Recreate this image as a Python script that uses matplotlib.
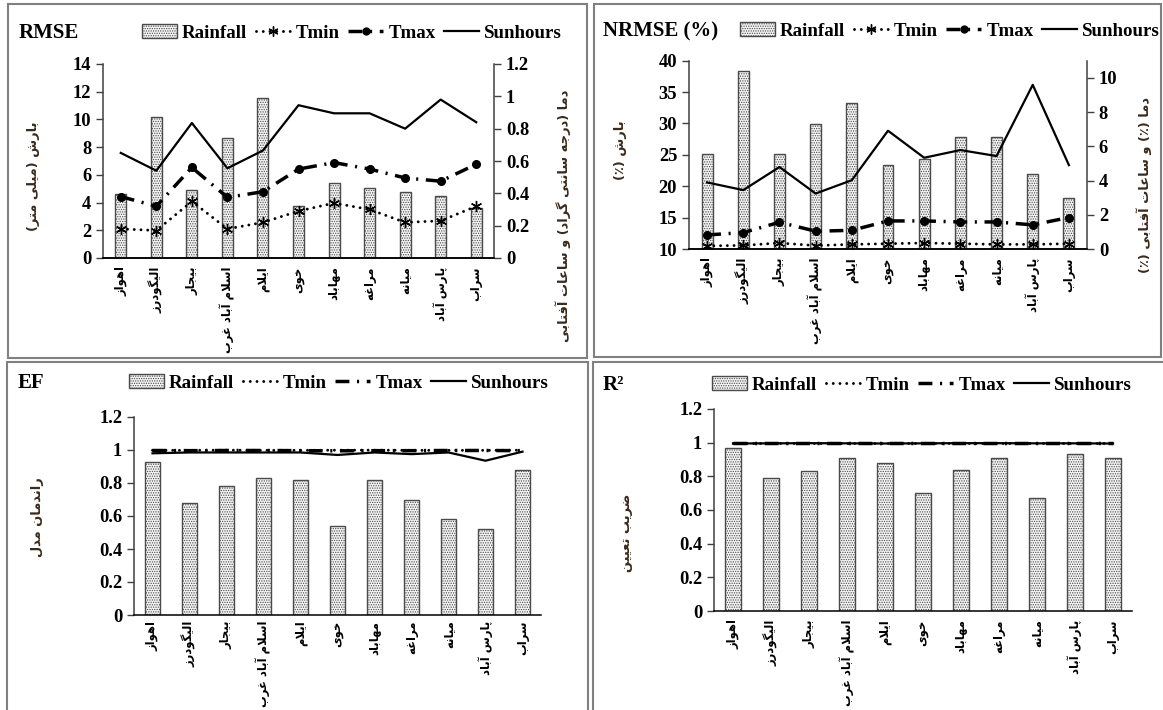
import matplotlib
matplotlib.use('Agg')
import matplotlib.pyplot as plt
from matplotlib.patches import Rectangle, Patch
from matplotlib.lines import Line2D
from matplotlib.ticker import FuncFormatter

W, H = 1163, 710

stations = ['اهواز', 'الیگودرز', 'بیجار', 'اسلام آباد غرب', 'ایلام', 'خوی',
            'مهاباد', 'مراغه', 'میانه', 'پارس آباد', 'سراب']

# RMSE
rmse_rain = [4.6, 10.15, 4.9, 8.65, 11.55, 3.75, 5.4, 5.05, 4.75, 4.45, 3.6]
rmse_tmin = [0.18, 0.17, 0.35, 0.18, 0.22, 0.29, 0.34, 0.30, 0.22, 0.23, 0.32]
rmse_tmax = [0.38, 0.32, 0.56, 0.375, 0.41, 0.55, 0.59, 0.55, 0.495, 0.475, 0.58]
rmse_sun = [0.65, 0.54, 0.835, 0.555, 0.665, 0.945, 0.895, 0.895, 0.80, 0.98, 0.84]

# NRMSE (%)
nrmse_rain = [25.2, 38.3, 25.2, 29.9, 33.2, 23.4, 24.3, 27.9, 27.8, 22.0, 18.1]
nrmse_tmin = [0.18, 0.21, 0.35, 0.20, 0.27, 0.31, 0.35, 0.31, 0.27, 0.27, 0.31]
nrmse_tmax = [0.82, 0.96, 1.56, 1.04, 1.09, 1.64, 1.64, 1.58, 1.58, 1.41, 1.84]
nrmse_sun = [3.89, 3.44, 4.79, 3.24, 4.02, 6.91, 5.33, 5.78, 5.43, 9.59, 4.90]

# EF
ef_rain = [0.93, 0.68, 0.78, 0.83, 0.82, 0.54, 0.82, 0.70, 0.58, 0.52, 0.88]
ef_tmin = [0.998, 0.998, 0.999, 0.998, 0.998, 0.999, 0.999, 0.998, 0.998, 0.998, 0.999]
ef_tmax = [0.997, 0.996, 0.997, 0.997, 0.996, 0.995, 0.996, 0.996, 0.997, 0.997, 0.996]
ef_sun = [0.980, 0.985, 0.985, 0.985, 0.985, 0.970, 0.985, 0.975, 0.985, 0.935, 0.990]

# R2
r2_rain = [0.97, 0.79, 0.83, 0.91, 0.88, 0.70, 0.84, 0.91, 0.67, 0.93, 0.91]
r2_tmin = [0.999, 0.999, 0.999, 0.999, 0.999, 0.999, 0.999, 0.999, 0.999, 0.999, 0.999]
r2_tmax = [0.998, 0.998, 0.998, 0.998, 0.998, 0.998, 0.998, 0.998, 0.998, 0.998, 0.998]
r2_sun = [0.995, 0.996, 0.997, 0.996, 0.995, 0.996, 0.997, 0.997, 0.996, 0.996, 0.995]

series_names = ['Rainfall', 'Tmin', 'Tmax', 'Sunhours']

# persian shaping (presentation forms + visual order), matplotlib has no bidi
FORMS = {
    'ا': ('\uFE8D', '\uFE8E', None, None),
    'آ': ('\uFE81', '\uFE82', None, None),
    'ب': ('\uFE8F', '\uFE90', '\uFE91', '\uFE92'),
    'پ': ('\uFB56', '\uFB57', '\uFB58', '\uFB59'),
    'ت': ('\uFE95', '\uFE96', '\uFE97', '\uFE98'),
    'ج': ('\uFE9D', '\uFE9E', '\uFE9F', '\uFEA0'),
    'خ': ('\uFEA5', '\uFEA6', '\uFEA7', '\uFEA8'),
    'د': ('\uFEA9', '\uFEAA', None, None),
    'ر': ('\uFEAD', '\uFEAE', None, None),
    'ز': ('\uFEAF', '\uFEB0', None, None),
    'س': ('\uFEB1', '\uFEB2', '\uFEB3', '\uFEB4'),
    'ش': ('\uFEB5', '\uFEB6', '\uFEB7', '\uFEB8'),
    'ض': ('\uFEBD', '\uFEBE', '\uFEBF', '\uFEC0'),
    'ع': ('\uFEC9', '\uFECA', '\uFECB', '\uFECC'),
    'غ': ('\uFECD', '\uFECE', '\uFECF', '\uFED0'),
    'ف': ('\uFED1', '\uFED2', '\uFED3', '\uFED4'),
    'گ': ('\uFB92', '\uFB93', '\uFB94', '\uFB95'),
    'ل': ('\uFEDD', '\uFEDE', '\uFEDF', '\uFEE0'),
    'م': ('\uFEE1', '\uFEE2', '\uFEE3', '\uFEE4'),
    'ن': ('\uFEE5', '\uFEE6', '\uFEE7', '\uFEE8'),
    'ه': ('\uFEE9', '\uFEEA', '\uFEEB', '\uFEEC'),
    'و': ('\uFEED', '\uFEEE', None, None),
    'ی': ('\uFBFC', '\uFBFD', '\uFBFE', '\uFBFF'),
}


def shape(text):
    out = []
    i = 0
    n = len(text)
    while i < n:
        c = text[i]
        if c not in FORMS:
            out.append(c)
            i += 1
            continue
        prev = text[i - 1] if i > 0 else ''
        jp = prev in FORMS and FORMS[prev][2] is not None
        if c == 'ل' and i + 1 < n and text[i + 1] == 'ا':
            out.append('\uFEFC' if jp else '\uFEFB')
            i += 2
            continue
        nxt = text[i + 1] if i + 1 < n else ''
        jn = FORMS[c][2] is not None and nxt in FORMS
        iso, fin, ini, med = FORMS[c]
        if jp and jn:
            out.append(med)
        elif jp:
            out.append(fin)
        elif jn:
            out.append(ini)
        else:
            out.append(iso)
        i += 1
    vis = ''.join(reversed(out))
    return vis.translate(str.maketrans('()', ')('))


LAT = 'Liberation Serif'
FA = ['DejaVu Sans']
LABEL_COL = '#3b2a1a'
YLAB_SIZE = 9.4
BAR_KW = dict(color='#f4f4f4', edgecolor='#4a4a4a', hatch='.......', linewidth=1.0, zorder=2)
plt.rcParams['hatch.linewidth'] = 0.6

fig = plt.figure(figsize=(W / 100, H / 100), dpi=100)


def rect(l, r, t, b):
    return [l / W, 1 - b / H, (r - l) / W, (b - t) / H]


def fx(x):
    return x / W


def fy(y):
    return 1 - y / H


def style_axis(ax, right=False):
    ax.spines['top'].set_visible(False)
    if not right:
        ax.spines['right'].set_visible(False)
    for s in ax.spines.values():
        s.set_color('#404040')
        s.set_linewidth(1.1)
    ax.spines['bottom'].set_color('black')
    ax.tick_params(axis='y', direction='out', length=5, width=1, colors='#404040',
                   labelcolor='black', labelsize=13.3, pad=3.5)
    for t in ax.get_yticklabels():
        t.set_fontfamily(LAT)
        t.set_fontweight('bold')


def setup_x(ax, pad=6):
    x = list(range(len(stations)))
    ax.set_xlim(-0.5, len(stations) - 0.5)
    ax.set_xticks(x)
    ax.set_xticklabels([shape(s) for s in stations], rotation=90, family=FA,
                       fontweight='bold', fontsize=8.4, va='top', ha='center')
    ax.tick_params(axis='x', length=0, pad=pad)
    return x


gfmt = FuncFormatter(lambda v, p: '{:g}'.format(round(v, 3)))

TMIN_LS = (0, (0.01, 2.3))
TMAX_LS = (0, (4, 2.2, 0.6, 2.2))
tmin_kw = dict(color='black', linestyle=TMIN_LS, linewidth=2.1, dash_capstyle='round',
               marker=(6, 2, 0), markersize=8, markeredgewidth=1.0, zorder=4)
tmax_kw = dict(color='black', linestyle=TMAX_LS, linewidth=2.5,
               marker='o', markersize=5.5, zorder=4)
sun_kw = dict(color='black', linestyle='-', linewidth=1.6, zorder=4)


def legend_at(x, y, with_markers):
    handles = [Patch(facecolor='#f4f4f4', edgecolor='#4a4a4a', hatch='.......', linewidth=1.0)]
    if with_markers:
        handles.append(Line2D([], [], **tmin_kw))
        handles.append(Line2D([], [], **tmax_kw))
    else:
        handles.append(Line2D([], [], color='black', linestyle=TMIN_LS, dash_capstyle='round',
                              linewidth=2.1))
        handles.append(Line2D([], [], color='black', linestyle=TMAX_LS, linewidth=2.5))
    handles.append(Line2D([], [], **sun_kw))
    fig.legend(handles, series_names, loc='center left', bbox_to_anchor=(fx(x), fy(y)),
               ncol=4, frameon=False, borderpad=0, borderaxespad=0, handlelength=1.85,
               handletextpad=0.27, columnspacing=0.45, markerscale=0.9,
               prop=dict(family=LAT, weight='bold', size=13.6))


def ylabel(ax, text, xa, ya):
    ax.set_ylabel(shape(text), family=FA, fontweight='bold', fontsize=YLAB_SIZE,
                  color=LABEL_COL, rotation=90)
    ax.yaxis.set_label_coords(xa, ya)


# ---------------- RMSE ----------------
ax1 = fig.add_axes(rect(103, 494, 64, 258))
x = setup_x(ax1)
ax1.bar(x, rmse_rain, width=0.31, **BAR_KW)
ax1.set_ylim(0, 14)
ax1.set_yticks(range(0, 15, 2))
style_axis(ax1)
ax1b = ax1.twinx()
ax1b.plot(x, rmse_sun, **sun_kw)
ax1b.plot(x, rmse_tmax, **tmax_kw)
ax1b.plot(x, rmse_tmin, **tmin_kw)
ax1b.set_ylim(0, 1.2)
ax1b.set_yticks([0, 0.2, 0.4, 0.6, 0.8, 1.0, 1.2])
ax1b.yaxis.set_major_formatter(gfmt)
style_axis(ax1b, right=True)
ax1b.spines['left'].set_visible(False)
ylabel(ax1, 'بارش (میلی متر)', -0.161, 0.42)
ylabel(ax1b, 'دما (درجه سانتی گراد) و ساعات آفتابی', 1.156, 0.22)
fig.text(fx(19), fy(33), 'RMSE', family=LAT, weight='bold', size=15, va='center', ha='left')
legend_at(142, 33, True)

# ---------------- NRMSE ----------------
ax2 = fig.add_axes(rect(689, 1087, 60.7, 249))
x = setup_x(ax2)
ax2.bar(x, nrmse_rain, width=0.30, **BAR_KW)
ax2.set_ylim(10, 40)
ax2.set_yticks(range(10, 41, 5))
style_axis(ax2)
ax2b = ax2.twinx()
ax2b.plot(x, nrmse_sun, **sun_kw)
ax2b.plot(x, nrmse_tmax, **tmax_kw)
ax2b.plot(x, nrmse_tmin, **tmin_kw)
ax2b.set_ylim(0, 11)
ax2b.set_yticks(range(0, 11, 2))
style_axis(ax2b, right=True)
ax2b.spines['left'].set_visible(False)
ylabel(ax2, 'بارش (٪)', -0.156, 0.526)
ylabel(ax2b, 'دما (٪) و ساعات آفتابی (٪)', 1.123, 0.34)
fig.text(fx(603), fy(31), 'NRMSE (%)', family=LAT, weight='bold', size=15, va='center', ha='left')
legend_at(740, 31, True)

# ---------------- EF ----------------
ax3 = fig.add_axes(rect(134, 541, 417, 615))
x = setup_x(ax3, pad=4)
ax3.bar(x, ef_rain, width=0.38, **BAR_KW)
ax3.plot(x, ef_sun, color='black', linewidth=1.6, zorder=4)
ax3.plot(x, ef_tmax, color='black', linestyle=TMAX_LS, linewidth=2.5, zorder=5)
ax3.plot(x, ef_tmin, color='black', linestyle=TMIN_LS, dash_capstyle='round', linewidth=2.1, zorder=5)
ax3.set_ylim(0, 1.2)
ax3.set_yticks([0, 0.2, 0.4, 0.6, 0.8, 1.0, 1.2])
ax3.yaxis.set_major_formatter(gfmt)
style_axis(ax3)
ylabel(ax3, 'راندمان مدل', -0.221, 0.495)
fig.text(fx(18), fy(383), 'EF', family=LAT, weight='bold', size=15, va='center', ha='left')
legend_at(129, 383, False)

# ---------------- R2 ----------------
ax4 = fig.add_axes(rect(714, 1132, 409, 611))
x = setup_x(ax4)
ax4.bar(x, r2_rain, width=0.40, **BAR_KW)
ax4.plot(x, r2_sun, color='black', linewidth=1.6, zorder=4)
ax4.plot(x, r2_tmax, color='black', linestyle=TMAX_LS, linewidth=2.5, zorder=5)
ax4.plot(x, r2_tmin, color='black', linestyle=TMIN_LS, dash_capstyle='round', linewidth=2.1, zorder=5)
ax4.set_ylim(0, 1.2)
ax4.set_yticks([0, 0.2, 0.4, 0.6, 0.8, 1.0, 1.2])
ax4.yaxis.set_major_formatter(gfmt)
style_axis(ax4)
ylabel(ax4, 'ضریب تعیین', -0.194, 0.386)
fig.text(fx(603), fy(385), 'R²', family=LAT, weight='bold', size=15, va='center', ha='left')
legend_at(712, 385, False)

# panel frames
for l, r, t, b in [(8, 587, 4, 358), (594, 1161, 4, 357), (7, 588, 362, 712), (593, 1165, 362, 712)]:
    fig.add_artist(Rectangle((fx(l), fy(b)), (r - l) / W, (b - t) / H, transform=fig.transFigure,
                             fill=False, edgecolor='#808080', linewidth=1.5))

fig.savefig('out.png', dpi=100)
